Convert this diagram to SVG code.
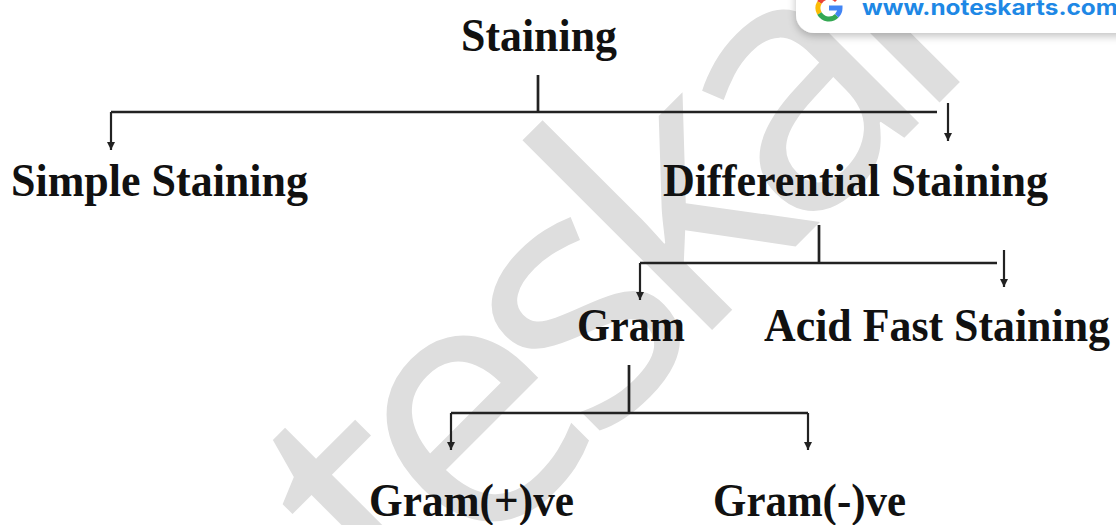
<svg xmlns="http://www.w3.org/2000/svg" width="1116" height="525" viewBox="0 0 1116 525">
  <style>
    .lbl { font-family: "Liberation Serif", "Times New Roman", serif; font-weight: bold; font-size: 47px; fill: #111; }
    .ln { stroke: #222; stroke-width: 2.7; fill: none; }
    .arr { stroke: #222; stroke-width: 2.2; fill: none; marker-end: url(#ah); }
    .wm { font-family: "Open Sans", "Noto Sans", sans-serif; font-weight: 400; font-size: 353px; letter-spacing: -30px; fill: #dedede; }
    .url { font-family: Inter, "Open Sans", sans-serif; font-weight: bold; font-size: 21px; fill: #1e88e5; }
  </style>
  <defs>
    <marker id="ah" markerUnits="userSpaceOnUse" markerWidth="10" markerHeight="12" refX="5" refY="10" orient="0" viewBox="0 0 10 12">
      <path d="M1,2 L9,2 L5,10 Z" fill="#222"/>
    </marker>
    <filter id="sh" x="-20%" y="-50%" width="140%" height="200%">
      <feGaussianBlur in="SourceAlpha" stdDeviation="4"/>
      <feOffset dx="0" dy="3" result="b"/>
      <feComponentTransfer><feFuncA type="linear" slope="0.25"/></feComponentTransfer>
      <feMerge><feMergeNode/><feMergeNode in="SourceGraphic"/></feMerge>
    </filter>
  </defs>
  <rect width="1116" height="525" fill="#ffffff"/>

  <g id="watermark">
    <text class="wm" transform="translate(690,352) rotate(-45)" x="-770" y="0">noteskarts</text>
  </g>

  <g id="badge">
    <rect x="796" y="-30" width="360" height="63" rx="18" fill="#ffffff" filter="url(#sh)"/>
    <g fill="none" stroke-width="5">
      <path d="M836.78,0.22 A11,11 0 0 0 819.47,2.5" stroke="#ea4335"/>
      <path d="M819.47,2.5 A11,11 0 0 0 819.47,13.5" stroke="#fbbc05"/>
      <path d="M819.47,13.5 A11,11 0 0 0 836.78,15.78" stroke="#34a853"/>
      <path d="M836.78,15.78 A11,11 0 0 0 840,8 L829,8" stroke="#4285f4"/>
    </g>
    <text class="url" x="862" y="15" textLength="256" lengthAdjust="spacingAndGlyphs">www.noteskarts.com</text>
  </g>

  <g id="connectors">
    <line class="ln" x1="538" y1="75" x2="538" y2="112"/>
    <line class="ln" x1="111" y1="112" x2="937" y2="112"/>
    <line class="arr" x1="111" y1="112" x2="111" y2="150"/>
    <line class="arr" x1="948" y1="103" x2="948" y2="141"/>

    <line class="ln" x1="819" y1="225" x2="819" y2="263"/>
    <line class="ln" x1="640" y1="263" x2="997" y2="263"/>
    <line class="arr" x1="640" y1="263" x2="640" y2="300"/>
    <line class="arr" x1="1004" y1="250" x2="1004" y2="287"/>

    <line class="ln" x1="629" y1="365" x2="629" y2="413"/>
    <line class="ln" x1="451" y1="413" x2="808" y2="413"/>
    <line class="arr" x1="451" y1="413" x2="451" y2="450"/>
    <line class="arr" x1="808" y1="413" x2="808" y2="450"/>
  </g>

  <g id="staining"><text class="lbl" x="461" y="51" textLength="156" lengthAdjust="spacingAndGlyphs">Staining</text></g>
  <g id="simple"><text class="lbl" x="11" y="196" textLength="297" lengthAdjust="spacingAndGlyphs">Simple Staining</text></g>
  <g id="differential"><text class="lbl" x="663" y="196" textLength="385" lengthAdjust="spacingAndGlyphs">Differential Staining</text></g>
  <g id="gram"><text class="lbl" x="577" y="341" textLength="108" lengthAdjust="spacingAndGlyphs">Gram</text></g>
  <g id="acidfast"><text class="lbl" x="764" y="341" textLength="346" lengthAdjust="spacingAndGlyphs">Acid Fast Staining</text></g>
  <g id="grampos"><text class="lbl" x="369" y="516" textLength="205" lengthAdjust="spacingAndGlyphs">Gram(+)ve</text></g>
  <g id="gramneg"><text class="lbl" x="713" y="516" textLength="193" lengthAdjust="spacingAndGlyphs">Gram(-)ve</text></g>
</svg>
